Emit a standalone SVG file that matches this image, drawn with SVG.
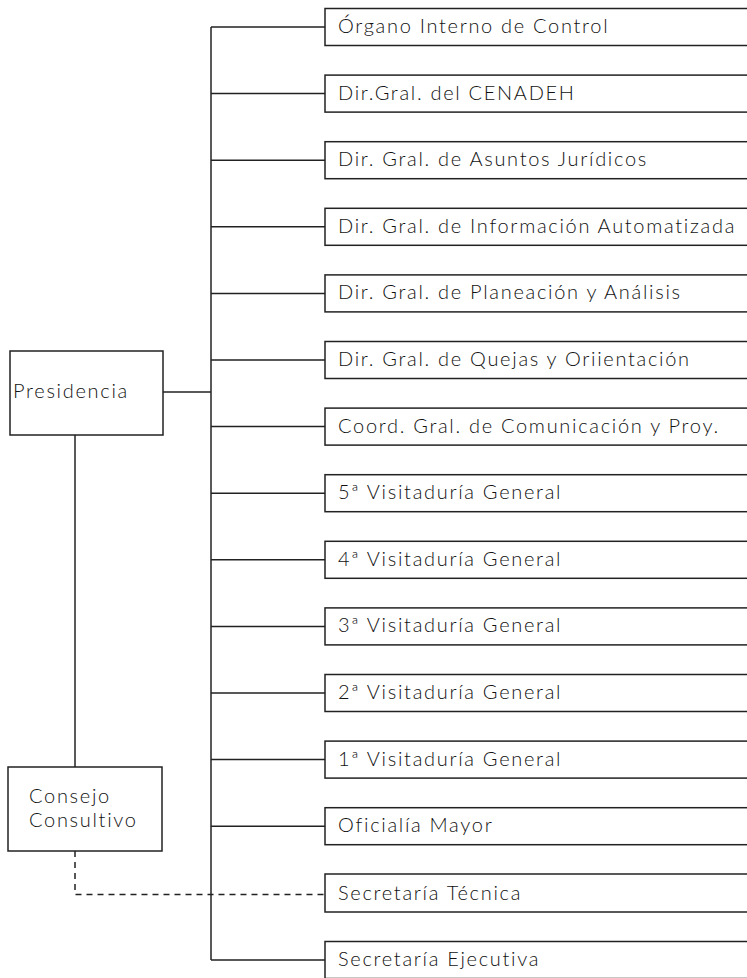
<svg xmlns="http://www.w3.org/2000/svg" width="747" height="978" viewBox="0 0 747 978">
<style>
.box{fill:#fff;stroke:#222;stroke-width:1.5}
.ln{fill:none;stroke:#222;stroke-width:1.5}
.dash{fill:none;stroke:#222;stroke-width:1.5;stroke-dasharray:6,5}
text{font-family:Lato,"Liberation Sans",sans-serif;font-weight:300;font-size:20px;letter-spacing:1.7px;fill:#111}
</style>
<rect width="747" height="978" fill="#fff"/>
<g id="connectors">
<path class="ln" d="M211,27V960"/>
<path class="ln" d="M163,392H211"/>
<path class="ln" d="M75,435V767"/>
<path class="dash" d="M75,851V894.5H325"/>
<path class="ln" d="M211,27H325M211,93.6H325M211,160.2H325M211,226.8H325M211,293.4H325M211,360H325M211,426.6H325M211,493.2H325M211,559.8H325M211,626.4H325M211,693H325M211,759.6H325M211,826.2H325M211,960H325"/>
</g>
<g id="presidencia"><rect class="box" x="10" y="351" width="153" height="84"/><text x="13" y="398">Presidencia</text></g>
<g id="consejo"><rect class="box" x="8" y="767" width="154" height="84"/><text x="29" y="803">Consejo</text><text x="29" y="827">Consultivo</text></g>
<g id="n1"><rect class="box" x="325" y="8.5" width="430" height="37"/><text x="338" y="33">Órgano Interno de Control</text></g>
<g id="n2"><rect class="box" x="325" y="75.1" width="430" height="37"/><text x="338" y="99.6">Dir.Gral. del CENADEH</text></g>
<g id="n3"><rect class="box" x="325" y="141.7" width="430" height="37"/><text x="338" y="166.2">Dir. Gral. de Asuntos Jurídicos</text></g>
<g id="n4"><rect class="box" x="325" y="208.3" width="430" height="37"/><text x="338" y="232.8">Dir. Gral. de Información Automatizada</text></g>
<g id="n5"><rect class="box" x="325" y="274.9" width="430" height="37"/><text x="338" y="299.4">Dir. Gral. de Planeación y Análisis</text></g>
<g id="n6"><rect class="box" x="325" y="341.5" width="430" height="37"/><text x="338" y="366">Dir. Gral. de Quejas y Oriientación</text></g>
<g id="n7"><rect class="box" x="325" y="408.1" width="430" height="37"/><text x="338" y="432.6">Coord. Gral. de Comunicación y Proy.</text></g>
<g id="n8"><rect class="box" x="325" y="474.7" width="430" height="37"/><text x="338" y="499.2">5ª Visitaduría General</text></g>
<g id="n9"><rect class="box" x="325" y="541.3" width="430" height="37"/><text x="338" y="565.8">4ª Visitaduría General</text></g>
<g id="n10"><rect class="box" x="325" y="607.9" width="430" height="37"/><text x="338" y="632.4">3ª Visitaduría General</text></g>
<g id="n11"><rect class="box" x="325" y="674.5" width="430" height="37"/><text x="338" y="699">2ª Visitaduría General</text></g>
<g id="n12"><rect class="box" x="325" y="741.1" width="430" height="37"/><text x="338" y="765.6">1ª Visitaduría General</text></g>
<g id="n13"><rect class="box" x="325" y="807.7" width="430" height="37"/><text x="338" y="832.2">Oficialía Mayor</text></g>
<g id="n14"><rect class="box" x="325" y="874" width="430" height="38"/><text x="338" y="900">Secretaría Técnica</text></g>
<g id="n15"><rect class="box" x="325" y="941.5" width="430" height="37"/><text x="338" y="966">Secretaría Ejecutiva</text></g>
</svg>
